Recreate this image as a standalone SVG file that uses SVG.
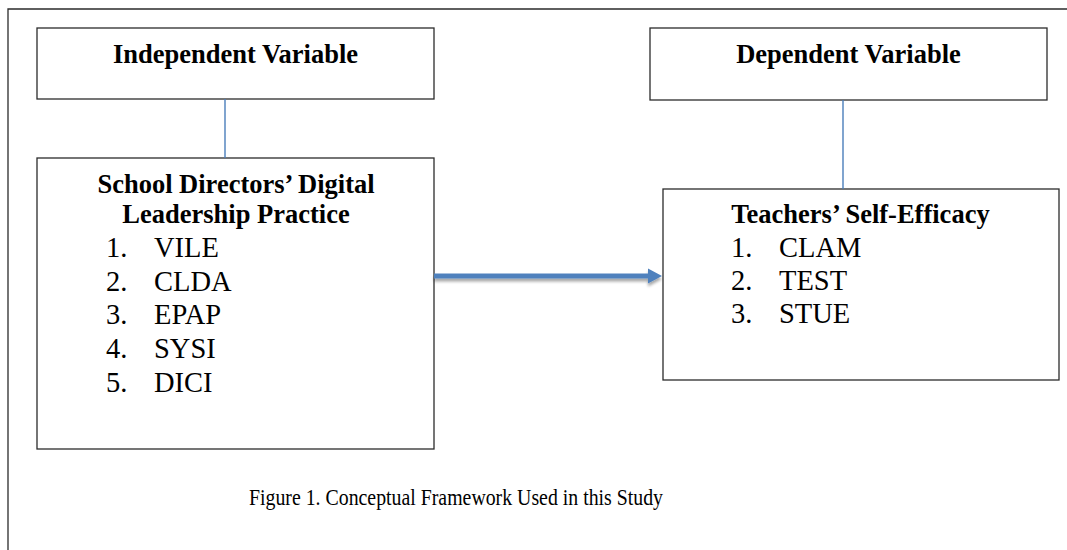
<svg xmlns="http://www.w3.org/2000/svg" width="1067" height="550" viewBox="0 0 1067 550">
<style>
.box{fill:#fff;stroke:#2b2b2b;stroke-width:1.3}
.frame{fill:none;stroke:#2b2b2b;stroke-width:1.3}
.title{font-family:"Liberation Serif","Times New Roman",serif;font-weight:bold;font-size:26.5px;fill:#000}
.item{font-family:"Liberation Serif","Times New Roman",serif;font-size:28.5px;fill:#000}
.cap{font-family:"Liberation Serif","Times New Roman",serif;font-size:23px;fill:#000}
.link{stroke:#4a7ebb;stroke-width:1.4;fill:none}
</style>
<defs>
<filter id="sh" x="-10%" y="-100%" width="120%" height="400%">
<feGaussianBlur in="SourceAlpha" stdDeviation="1.5"/>
<feOffset dx="0" dy="3" result="b"/>
<feComponentTransfer><feFuncA type="linear" slope="0.35"/></feComponentTransfer>
<feMerge><feMergeNode/><feMergeNode in="SourceGraphic"/></feMerge>
</filter>
</defs>
<rect width="1067" height="550" fill="#fff"/>
<path class="frame" d="M8,550 V9 H1067"/>
<g id="independent">
<rect class="box" x="37" y="28" width="397" height="71"/>
<text class="title" x="235.5" y="63" text-anchor="middle">Independent Variable</text>
</g>
<g id="dependent">
<rect class="box" x="650" y="28" width="397" height="72"/>
<text class="title" x="848.5" y="63" text-anchor="middle">Dependent Variable</text>
</g>
<g id="school">
<rect class="box" x="37" y="158" width="397" height="291"/>
<text class="title" x="236" y="193" text-anchor="middle">School Directors’ Digital</text>
<text class="title" x="236" y="223" text-anchor="middle">Leadership Practice</text>
<text class="item" y="257"><tspan x="106">1.</tspan><tspan x="154">VILE</tspan></text>
<text class="item" y="291"><tspan x="106">2.</tspan><tspan x="154">CLDA</tspan></text>
<text class="item" y="324"><tspan x="106">3.</tspan><tspan x="154">EPAP</tspan></text>
<text class="item" y="358"><tspan x="106">4.</tspan><tspan x="154">SYSI</tspan></text>
<text class="item" y="392"><tspan x="106">5.</tspan><tspan x="154">DICI</tspan></text>
</g>
<g id="teachers">
<rect class="box" x="663" y="189" width="396" height="191"/>
<text class="title" x="860.5" y="223" text-anchor="middle">Teachers’ Self-Efficacy</text>
<text class="item" y="257"><tspan x="731">1.</tspan><tspan x="779">CLAM</tspan></text>
<text class="item" y="290"><tspan x="731">2.</tspan><tspan x="779">TEST</tspan></text>
<text class="item" y="323"><tspan x="731">3.</tspan><tspan x="779">STUE</tspan></text>
</g>
<g id="connectors">
<line class="link" x1="225" y1="99" x2="225" y2="158"/>
<line class="link" x1="843" y1="100" x2="843" y2="189"/>
<g filter="url(#sh)">
<path d="M434,273.5 H648 V268.5 L662,276 L648,283.5 V278.5 H434 Z" fill="#4f81bd"/>
</g>
</g>
<text class="cap" x="249" y="505" textLength="414" lengthAdjust="spacingAndGlyphs">Figure 1. Conceptual Framework Used in this Study</text>
</svg>
